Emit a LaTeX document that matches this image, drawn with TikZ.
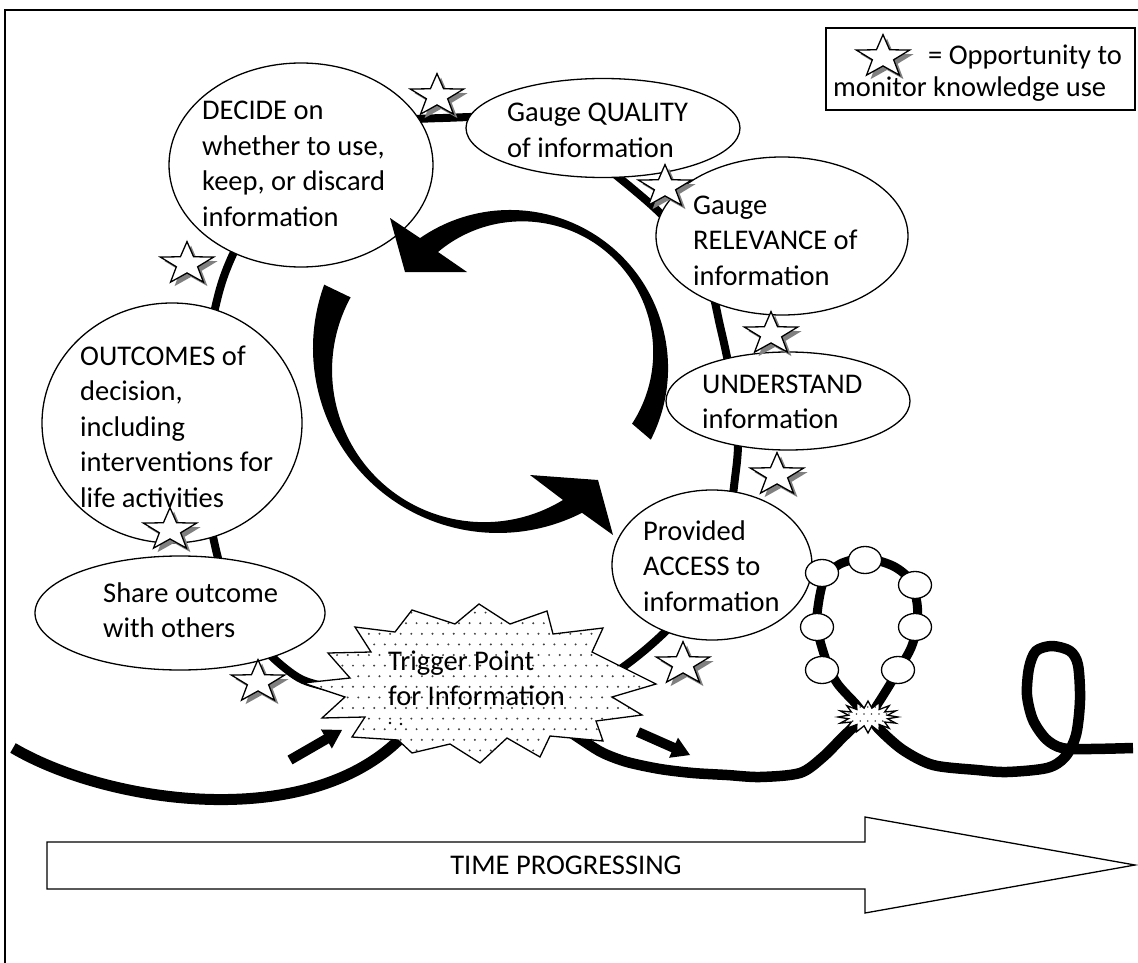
\documentclass[tikz,border=0pt]{standalone}
\usepackage{fontspec}
\setmainfont{Carlito}
\usetikzlibrary{shapes.geometric,calc}

% left-aligned block of lines with natural word spacing; baseline on the first line
\newcommand\textlines[1]{\vtop{\let\\\cr\halign{##\hfil\cr#1\crcr}}}

% outline of the large trigger burst
\newcommand\triggerburst{(412,610) -- (455,624) -- (479,604) -- (510,624) -- (547,611) -- (553,634) -- (603,628) -- (592,652) -- (656,684) -- (612,697) -- (642,715) -- (596,721) -- (603,741) -- (550,736) -- (540,757) -- (507,738) -- (480,763) -- (450,744) -- (412,753) -- (398,740) -- (352,737) -- (365,717) -- (322,718) -- (345,697) -- (303,683) -- (350,678) -- (328,653) -- (371,652) -- (355,627) -- (395,632) -- cycle}
% outline of the small burst where the side loop closes
\newcommand\knotburst{plot[samples at={0,...,31}] ({868+(25+5*cos(180*\x))*cos(11.25*\x)},{717+(12.5+3.5*cos(180*\x))*sin(11.25*\x)}) -- cycle}

% short fat arrow: #1 tail, #2 tip, #3 name for the head base
\newcommand\blockarrow[3]{%
  \coordinate (#3) at ($(#2)!18pt!(#1)$);
  \fill ($(#1)!5pt!90:(#2)$) -- ($(#3)!5pt!90:(#2)$) -- ($(#3)!11pt!90:(#2)$) -- (#2)
     -- ($(#3)!11pt!-90:(#2)$) -- ($(#3)!5pt!-90:(#2)$) -- ($(#1)!5pt!-90:(#2)$) -- cycle;}

\tikzset{
  edge/.style={line width=1.3pt},
  bubble/.style={draw, ellipse, fill=white, line width=1.3pt, inner sep=0pt},
  txt/.style={anchor=base west, inner sep=0pt},
  flow/.style={line width=8pt},
  trail/.style={line width=10.5pt, line join=round},
  bead/.style={draw, ellipse, fill=white, line width=1.3pt, minimum width=33pt, minimum height=27pt, inner sep=0pt},
  dotgray/.style={fill=black!75},
  pics/optstar/.style={code={
    \fill[black!50] plot[samples at={0,...,9}]
      ({4+(19.6+8.4*cos(180*\x))*cos(-90+36*\x)},{4+0.8*(19.6+8.4*cos(180*\x))*sin(-90+36*\x)}) -- cycle;
    \draw[fill=white, line width=1.3pt] plot[samples at={0,...,9}]
      ({(19.6+8.4*cos(180*\x))*cos(-90+36*\x)},{0.8*(19.6+8.4*cos(180*\x))*sin(-90+36*\x)}) -- cycle;
  }}
}

\begin{document}
\begin{tikzpicture}[x=1pt,y=-1pt,font=\fontsize{28.5}{35.5}\selectfont]
\useasboundingbox (0,0) rectangle (1138,963);

% page frame and legend box
\draw[edge] (5,963) -- (5,10) -- (1138,10);
\draw[edge] (826,28) rectangle (1135,110);

% the information cycle
\draw[flow] plot[smooth cycle, tension=0.55] coordinates {(330,688) (290,672) (245,625) (216,550) (200,430) (222,282) (280,180) (350,130) (443,118) (540,125) (640,195) (700,260) (721,330) (736,410) (736,470) (715,570) (645,650) (560,700) (440,712)};

% the life line entering and leaving the trigger
\draw[line width=11pt] (13,748) .. controls (110,805) and (320,835) .. (410,728);
\draw[trail] plot[smooth, tension=0.5] coordinates {(560,725) (585,742) (603,753) (627,762) (660,769) (693,773) (727,775) (760,777) (800,773) (823,757) (843,737) (866,715)};
\draw[trail] plot[smooth, tension=0.5] coordinates {(870,717) (880,730) (903,750) (933,765) (977,770) (1007,772) (1047,768) (1065,757) (1076,735) (1080,700) (1078,665) (1070,651) (1052,646) (1036,651) (1029,668) (1027,695) (1033,720) (1046,739) (1062,748) (1090,749) (1133,748)};
\draw[line width=9pt] plot[smooth cycle, tension=0.5] coordinates {(868,717) (855,703) (837,683) (826,660) (817,627) (819,600) (825,578) (840,564) (865,558) (893,566) (910,580) (917,603) (917,627) (911,648) (901,666) (889,686) (877,705)};

% stages of the cycle
\node[bubble, minimum width=264pt, minimum height=204pt] (decide) at (301,165) {};
\node[bubble, minimum width=274pt, minimum height=99pt] (quality) at (603,128) {};
\node[bubble, minimum width=252pt, minimum height=158pt] (relevance) at (782,236) {};
\node[bubble, minimum width=244pt, minimum height=98pt] (understand) at (788,401) {};
\node[bubble, minimum width=200pt, minimum height=150pt] (access) at (712,565) {};
\node[bubble, minimum width=260pt, minimum height=240pt] (outcomes) at (172,423) {};
\node[bubble, minimum width=290pt, minimum height=114pt] (share) at (180,613) {};

\node[txt] (decideText) at (202,120) {\textlines{DECIDE on\\whether to use,\\keep, or discard\\information}};
\node[txt] (qualityText) at (507,122) {\textlines{Gauge QUALITY\\of information}};
\node[txt] (relevanceText) at (693,214) {\textlines{Gauge\\RELEVANCE of\\information}};
\node[txt] (understandText) at (702,393) {\textlines{UNDERSTAND\\information}};
\node[txt] (accessText) at (643,540) {\textlines{Provided\\ACCESS to\\information}};
\begin{scope}
  \clip (40,300) rectangle (310,509);
  \node[txt] (outcomesText) at (80,365) {\textlines{OUTCOMES of\\decision,\\including\\interventions for\\life activities}};
\end{scope}
\node[txt] (shareText) at (103,602) {\textlines{Share outcome\\with others}};

% beads on the side loop
\node[bead] (b1) at (822,573) {};
\node[bead] (b2) at (817,627) {};
\node[bead] (b3) at (822,670) {};
\node[bead] (b4) at (865,560) {};
\node[bead] (b5) at (915,585) {};
\node[bead] (b6) at (915,627) {};
\node[bead] (b7) at (898,670) {};

% small knot burst
\fill[white] \knotburst;
\begin{scope}
  \clip \knotburst;
  \foreach \i in {0,...,9} {\foreach \j in {0,...,5} {
    \fill[dotgray] ({834+7.5*\i+3.75*mod(\j,2)},{700+7*\j}) circle (0.9pt);}}
\end{scope}
\draw[edge] \knotburst;

% trigger burst
\fill[white] \triggerburst;
\begin{scope}
  \clip \triggerburst;
  \foreach \i in {0,...,33} {\foreach \j in {0,...,15} {
    \fill[dotgray] ({300+10.6*\i+5.3*mod(\j,2)},{602+10.6*\j}) circle (1.1pt);}}
\end{scope}
\draw[edge] \triggerburst;
\node[txt] (triggerText) at (388,670) {\textlines{Trigger Point\\for Information}};
\fill (390,723) circle (1.3pt) (401,724) circle (1.3pt);

% circular arrows inside the cycle
\fill (650.8,439.7) arc[start angle=27, end angle=-124.7, radius=158] -- (390,218) -- (405,272) -- (467,272) -- (438,252) arc[start angle=-130, end angle=33, radius=131] -- cycle;
\fill (324.2,284.7) arc[start angle=200, end angle=63, radius=185] -- (613,535) -- (598,480) -- (530,475) -- (563,500) arc[start angle=58.7, end angle=208.6, radius=152] -- cycle;

% monitoring opportunities
\pic at (437,96) {optstar};
\pic at (665,187) {optstar};
\pic at (187,264) {optstar};
\pic at (771,334) {optstar};
\pic at (777,475) {optstar};
\pic at (170,530) {optstar};
\pic at (258,682) {optstar};
\pic at (683,664) {optstar};

% arrows into and out of the trigger
\coordinate (inTail) at (290,760);
\coordinate (inTip) at (342,730);
\coordinate (outTail) at (638,732);
\coordinate (outTip) at (690,755);
\blockarrow{inTail}{inTip}{inHead}
\blockarrow{outTail}{outTip}{outHead}

% time axis
\draw[edge, fill=white] (47,842) -- (865,842) -- (865,817) -- (1135,865) -- (865,913) -- (865,889) -- (47,889) -- cycle;
\node[anchor=base, inner sep=0pt] (timeText) at (566,874) {TIME PROGRESSING};

% legend
\pic at (883,57) {optstar};
\node[txt] (legendA) at (928,65) {= Opportunity to};
\node[txt] (legendB) at (833,97) {monitor knowledge use};
\end{tikzpicture}
\end{document}
